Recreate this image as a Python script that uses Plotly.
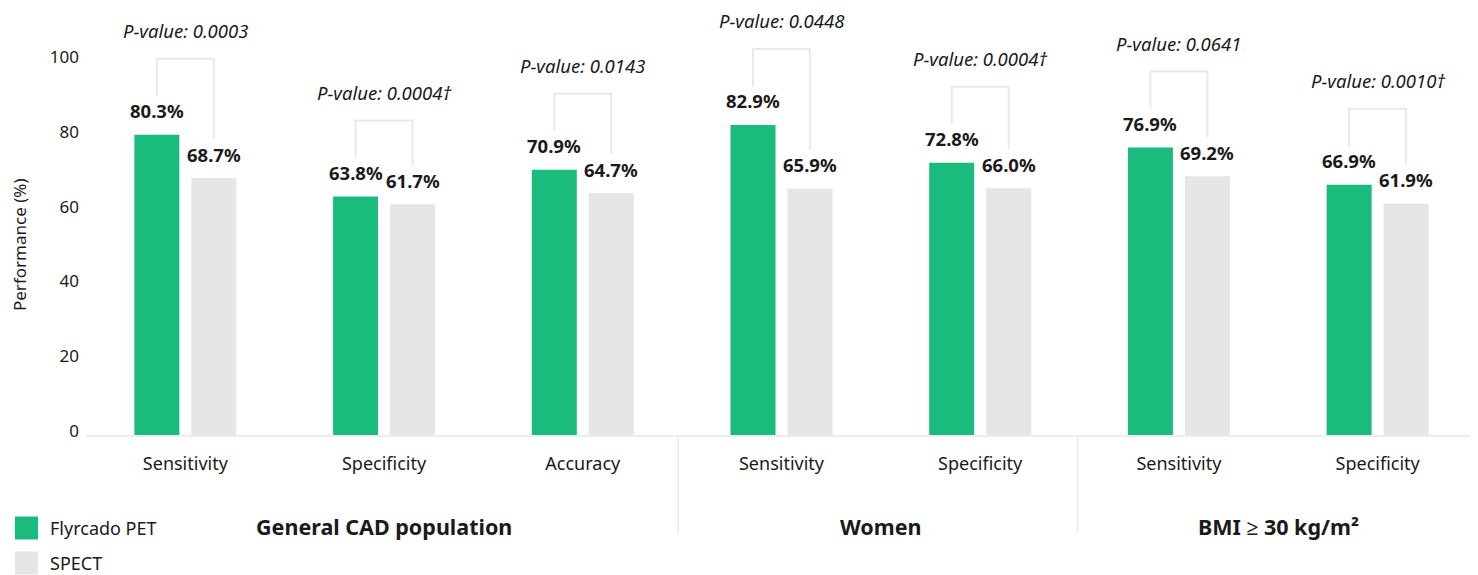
import plotly.graph_objects as go

metrics = ["Sensitivity", "Specificity", "Accuracy", "Sensitivity", "Specificity", "Sensitivity", "Specificity"]
pet_values = [80.3, 63.8, 70.9, 82.9, 72.8, 76.9, 66.9]
spect_values = [68.7, 61.7, 64.7, 65.9, 66.0, 69.2, 61.9]
p_values = ["0.0003", "0.0004†", "0.0143", "0.0448", "0.0004†", "0.0641", "0.0010†"]
group_names = ["General CAD population", "Women", "BMI ≥ 30 kg/m²"]
group_centers = [1, 3.5, 5.5]
group_separators = [2.48, 4.49]
series_names = ["Flyrcado PET", "SPECT"]
y_ticks = [0, 20, 40, 60, 80, 100]

GREEN = "#1abc7e"
GRAY = "#e5e6e8"
LINE = "#e9e9e9"
TXT = "#1a1a1a"
FONT = "Noto Sans"

# page offset (browser body margin)
OFF = 8
PAGE_W, PAGE_H = 1478, 575
W, H = PAGE_W - OFF, PAGE_H - OFF
# plot area in page pixels
P_LEFT, P_RIGHT, P_TOP, P_BOTTOM = 86, 1477, 8, 435
ML = P_LEFT - OFF
MR = PAGE_W - P_RIGHT
MT = P_TOP - OFF
MB = PAGE_H - P_BOTTOM
PW, PH = W - ML - MR, H - MT - MB
SCALE = 3.74  # px per unit
YMAX = PH / SCALE
CAT_PX = PW / 7.0

bar_w = 45 / CAT_PX
off_green = -51 / CAT_PX
off_gray = 6 / CAT_PX
cg = off_green + bar_w / 2
cs = off_gray + bar_w / 2

def px2x(px):
    return (px - P_LEFT) / PW

def px2y(py):
    return (P_BOTTOM - py) / PH

idx = list(range(len(metrics)))

fig = go.Figure()
fig.add_trace(go.Bar(x=idx, y=pet_values, width=bar_w, offset=off_green,
                     marker=dict(color=GREEN, line=dict(width=0)), name=series_names[0],
                     showlegend=False, hoverinfo="y"))
fig.add_trace(go.Bar(x=idx, y=spect_values, width=bar_w, offset=off_gray,
                     marker=dict(color=GRAY, line=dict(width=0)), name=series_names[1],
                     showlegend=False, hoverinfo="y"))

end_off = 39 / SCALE
top_off = 76 / SCALE
annotations = []
for i, (g, s, p) in enumerate(zip(pet_values, spect_values, p_values)):
    top = g + top_off
    fig.add_trace(go.Scatter(x=[i + cg, i + cg, i + cs, i + cs],
                             y=[g + end_off, top, top, s + end_off],
                             mode="lines", line=dict(color=LINE, width=2),
                             cliponaxis=False, showlegend=False, hoverinfo="skip"))
    annotations.append(dict(x=i + cg, y=g, xref="x", yref="y", text=f"<b>{g:.1f}%</b>",
                            showarrow=False, yanchor="middle", yshift=24,
                            font=dict(size=18.5, color=TXT, family=FONT)))
    annotations.append(dict(x=i + cs, y=s, xref="x", yref="y", text=f"<b>{s:.1f}%</b>",
                            showarrow=False, yanchor="middle", yshift=24,
                            font=dict(size=18.5, color=TXT, family=FONT)))
    annotations.append(dict(x=i, y=top, xref="x", yref="y", text=f"<i>P-value: {p}</i>",
                            showarrow=False, yanchor="middle", yshift=28,
                            font=dict(size=18.5, color=TXT, family=FONT)))

for name, cx in zip(group_names, group_centers):
    annotations.append(dict(x=cx, y=px2y(526), xref="x", yref="paper", text=f"<b>{name}</b>",
                            showarrow=False, yanchor="middle", xanchor="center",
                            font=dict(size=21.5, color=TXT, family=FONT)))

annotations.append(dict(x=px2x(20), y=px2y(245), xref="paper", yref="paper",
                        text="Performance (%)", textangle=-90, showarrow=False,
                        xanchor="center", yanchor="middle",
                        font=dict(size=17, color=TXT, family=FONT)))

shapes = []
for sx in group_separators:
    shapes.append(dict(type="line", xref="x", yref="paper", x0=sx, x1=sx,
                       y0=0, y1=px2y(532), line=dict(color=LINE, width=1.5)))

legend_colors = [GREEN, GRAY]
legend_rows = [528, 563]
for name, col, cy in zip(series_names, legend_colors, legend_rows):
    shapes.append(dict(type="rect", xref="paper", yref="paper",
                       x0=px2x(15), x1=px2x(38), y0=px2y(cy - 11.5), y1=px2y(cy + 11.5),
                       fillcolor=col, line=dict(width=0)))
    annotations.append(dict(x=px2x(48), y=px2y(cy), xref="paper", yref="paper",
                            text=name, showarrow=False, xanchor="left", yanchor="middle",
                            font=dict(size=18, color=TXT, family=FONT)))

fig.update_layout(
    width=W, height=H,
    margin=dict(l=ML, r=MR, t=MT, b=MB, pad=0),
    paper_bgcolor="white", plot_bgcolor="white",
    barmode="overlay",
    showlegend=False,
    font=dict(family=FONT, color=TXT, size=18),
    annotations=annotations,
    shapes=shapes,
    xaxis=dict(range=[-0.5, 6.5], tickmode="array", tickvals=idx, ticktext=metrics,
               showgrid=False, zeroline=False, showline=True, linecolor="#ededed",
               linewidth=2, ticks="", ticklabelstandoff=11,
               tickfont=dict(size=18, color=TXT, family=FONT), fixedrange=True),
    yaxis=dict(range=[0, YMAX], tickmode="array", tickvals=y_ticks,
               showgrid=False, zeroline=False, showline=False, ticks="",
               ticklabelshift=-4, ticklabelstandoff=6,
               tickfont=dict(size=17, color=TXT, family=FONT), fixedrange=True),
)

fig.write_html("out.html")
